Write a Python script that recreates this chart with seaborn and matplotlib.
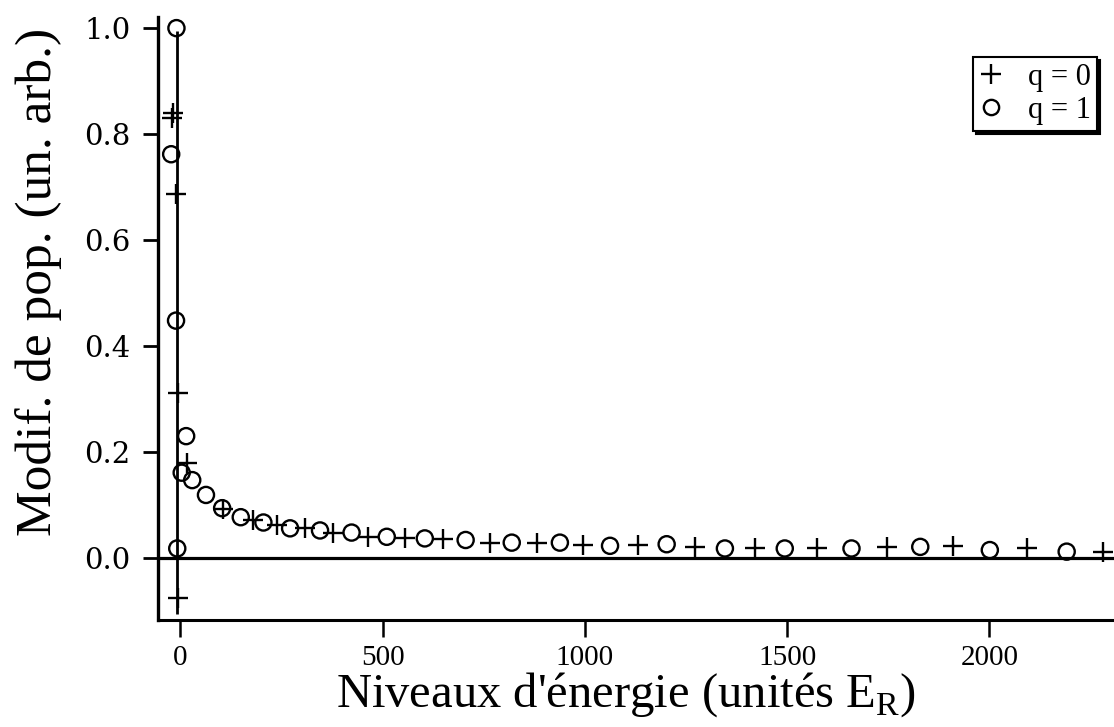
import matplotlib
matplotlib.use("Agg")
import matplotlib.pyplot as plt
from matplotlib.lines import Line2D
import seaborn as sns
import pandas as pd

# Population change vs energy level, two values of q
energy_q0 = [-18, -22, -11, -5, 15, -5, 106, 180, 238, 308, 378, 464, 555, 650,
             765, 881, 996, 1132, 1272, 1420, 1573, 1746, 1911, 2092, 2281]
pop_q0 = [0.839, 0.830, 0.687, 0.311, 0.179, -0.076, 0.092, 0.072, 0.062, 0.056,
          0.047, 0.040, 0.037, 0.035, 0.028, 0.028, 0.025, 0.025, 0.021, 0.018,
          0.018, 0.021, 0.023, 0.018, 0.012]

energy_q1 = [-10, -23, -11, 14, 3, 29, 63, 103, 149, 205, 271, 345, 423, 510, 604,
             -8, 705, 819, 938, 1062, 1202, 1346, 1494, 1659, 1829, 2001, 2191]
pop_q1 = [1.0, 0.762, 0.448, 0.230, 0.161, 0.147, 0.119, 0.094, 0.077, 0.067,
          0.056, 0.052, 0.048, 0.040, 0.037, 0.018, 0.034, 0.029, 0.029, 0.023,
          0.026, 0.018, 0.018, 0.018, 0.021, 0.015, 0.012]

x_ticks = [0, 500, 1000, 1500, 2000]
y_ticks = [0.0, 0.2, 0.4, 0.6, 0.8, 1.0]
y_tick_labels = ["0.0", "0.2", "0.4", "0.6", "0.8", "1.0"]
legend_labels = ["q = 0", "q = 1"]

ground_level = -8  # vertical guide through the lowest levels

sns.set_style("ticks")
plt.rcParams["font.family"] = ["Liberation Serif", "DejaVu Serif"]
plt.rcParams["mathtext.fontset"] = "custom"
plt.rcParams["mathtext.rm"] = "Liberation Serif"
for key in ["text.color", "axes.labelcolor", "xtick.color", "ytick.color",
            "axes.edgecolor"]:
    plt.rcParams[key] = "black"

df0 = pd.DataFrame({"E": energy_q0, "pop": pop_q0})
df1 = pd.DataFrame({"E": energy_q1, "pop": pop_q1})

fig = plt.figure(figsize=(11.14, 7.27), dpi=100)
ax = fig.add_axes([158 / 1114, 107 / 727, 956 / 1114, 603 / 727])

ax.axhline(0, color="black", lw=2.3, zorder=1)
ax.vlines(ground_level, -0.105, 0.995, color="black", lw=2.0, zorder=1)

sns.scatterplot(data=df0, x="E", y="pop", marker="+", color="black",
                s=200, linewidth=1.7, ax=ax, zorder=3)
sns.scatterplot(data=df1, x="E", y="pop", marker="o", facecolors="none",
                edgecolor="black", s=135, linewidth=1.7, ax=ax, zorder=3)

ax.set_xlim(-55.6, 2308)
ax.set_ylim(-0.117, 1.021)

ax.set_xticks(x_ticks)
ax.set_xticklabels([str(t) for t in x_ticks], fontsize=21,
                   family="Liberation Serif")
ax.set_yticks(y_ticks)
ax.set_yticklabels(y_tick_labels, fontsize=21, family="DejaVu Serif")

ax.tick_params(axis="y", direction="out", length=11, width=2.0, pad=9)
ax.tick_params(axis="x", direction="out", length=12, width=1.8, pad=6)

for side in ["top", "right"]:
    ax.spines[side].set_visible(False)
ax.spines["left"].set_linewidth(2.4)
ax.spines["bottom"].set_linewidth(2.2)

ax.set_xlabel("Niveaux d'énergie (unités E$_{\\mathregular{R}}$)", fontsize=35)
ax.set_ylabel("Modif. de pop. (un. arb.)", fontsize=37)
ax.xaxis.set_label_coords(0.49, -0.083)
ax.yaxis.set_label_coords(-0.100, 0.56)

handles = [
    Line2D([], [], marker="+", color="black", ls="", markersize=14,
           markeredgewidth=1.7),
    Line2D([], [], marker="o", color="black", ls="", markerfacecolor="none",
           markersize=11, markeredgewidth=1.7),
]
leg = ax.legend(handles, legend_labels, loc="upper right",
                bbox_to_anchor=(1097 / 1114, 1 - 57 / 727),
                bbox_transform=fig.transFigure, fontsize=22, frameon=True,
                fancybox=False, edgecolor="black", handlelength=0.8,
                handletextpad=0.8, borderpad=0.2, labelspacing=0.12,
                borderaxespad=0, shadow={"color": "black", "alpha": 1,
                                         "ox": 2.5, "oy": -2.5})
leg.get_frame().set_linewidth(1.5)

fig.savefig("out.png", dpi=100)
